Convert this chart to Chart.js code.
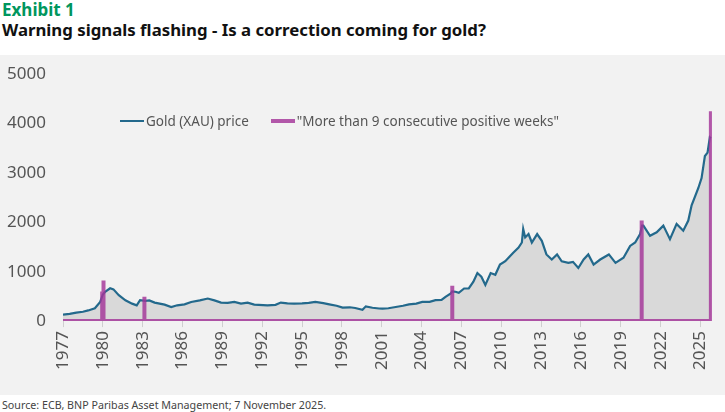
<!DOCTYPE html>
<html>
<head>
<meta charset="utf-8">
<script src="https://cdn.jsdelivr.net/npm/chart.js@4.4.1/dist/chart.umd.min.js"></script>
<style>
  html, body { margin: 0; padding: 0; background: #fff; }
  body { width: 725px; height: 412px; position: relative; overflow: hidden; font-family: "Noto Sans", sans-serif; }
  #exhibit { position: absolute; left: 2px; top: -2px; font: bold 17px "Noto Sans", sans-serif; color: #00965e; }
  #title { position: absolute; left: 2px; top: 18px; font: bold 16.8px "Noto Sans", sans-serif; color: #111; }
  #panel { position: absolute; left: 0; top: 55px; width: 725px; height: 340px; background: #f2f2f2; }
  #legend { position: absolute; left: 120px; top: 57px; font-size: 13.5px; color: #555; display: flex; align-items: center; }
  #legend .item { display: flex; align-items: center; margin-right: 22px; }
  #legend .swatch { display: inline-block; width: 24px; margin-right: 2px; }
  #source { position: absolute; left: 2px; top: 398px; font-size: 10.7px; color: #444; }
</style>
</head>
<body>
<div id="exhibit">Exhibit 1</div>
<div id="title">Warning signals flashing - Is a correction coming for gold?</div>
<div id="panel">
  <canvas id="gold-chart" width="725" height="340"></canvas>
  <div id="legend"></div>
</div>
<div id="source">Source: ECB, BNP Paribas Asset Management; 7 November 2025.</div>

<script>
// Gold price (decimal year, USD/oz)
const goldYears = [
  1977.0, 1977.5, 1978.0, 1978.5, 1978.9, 1979.4, 1979.8, 1980.0, 1980.17, 1980.55,
  1980.8, 1981.2, 1981.7, 1982.2, 1982.55, 1982.8, 1983.2, 1983.5, 1983.9, 1984.65,
  1985.15, 1985.6, 1986.15, 1986.65, 1987.3, 1987.9, 1988.4, 1988.9, 1989.4, 1989.9,
  1990.4, 1990.9, 1991.4, 1992.4, 1993.0, 1993.4, 1993.9, 1994.4, 1995.0, 1995.5,
  1996.0, 1996.6, 1997.05, 1997.6, 1998.05, 1998.6, 1999.0, 1999.55, 1999.8, 2000.3,
  2000.8, 2001.05, 2001.5, 2002.05, 2002.6, 2003.05, 2003.6, 2004.05, 2004.6, 2005.05,
  2005.5, 2005.8, 2006.2, 2006.3, 2006.55, 2006.8, 2007.2, 2007.55, 2007.9, 2008.2,
  2008.5, 2008.8, 2009.2, 2009.55, 2009.9, 2010.3, 2010.65, 2010.9, 2011.3, 2011.55,
  2011.65, 2011.8, 2012.05, 2012.3, 2012.7, 2013.05, 2013.4, 2013.8, 2014.2, 2014.55,
  2015.05, 2015.4, 2015.8, 2016.2, 2016.55, 2016.95, 2017.45, 2018.1, 2018.6, 2019.2,
  2019.7, 2020.08, 2020.45, 2020.6, 2020.7, 2021.2, 2021.7, 2022.2, 2022.7, 2023.2,
  2023.7, 2024.08, 2024.33, 2024.83, 2025.08, 2025.33, 2025.53, 2025.7, 2025.78
];
const goldPrices = [
  130, 145, 170, 190, 216, 260, 388, 540, 594, 664,
  643, 526, 422, 354, 320, 423, 408, 420, 375, 333,
  285, 320, 340, 388, 420, 457, 420, 375, 370, 388,
  354, 375, 333, 320, 330, 375, 360, 354, 360, 370,
  388, 365, 340, 310, 272, 280, 265, 231, 299, 270,
  255, 251, 260, 285, 310, 340, 355, 388, 390, 423,
  430, 491, 560, 600, 594, 573, 660, 664, 800, 973,
  900, 732, 973, 938, 1144, 1212, 1315, 1385, 1488, 1592,
  1866, 1695, 1763, 1592, 1763, 1625, 1350, 1247, 1350, 1212,
  1179, 1200, 1076, 1247, 1350, 1144, 1247, 1350, 1179, 1282,
  1522, 1592, 1763, 1934, 1934, 1728, 1798, 1934, 1660, 1969,
  1831, 2037, 2346, 2691, 2897, 3344, 3412, 3722, 3700
];

// "More than 9 consecutive positive weeks" signals
const signalDates = [1979.95, 1980.05, 1983.13, 2006.31, 2020.57, 2025.78];
const signalHeights = [600, 820, 491, 718, 2037, 4250];

const xStart = 1977;
const xEnd = 2025.86;
const yearTicks = [1977, 1980, 1983, 1986, 1989, 1992, 1995, 1998, 2001, 2004, 2007, 2010, 2013, 2016, 2019, 2022, 2025];
const valueTicks = [0, 1000, 2000, 3000, 4000, 5000];

const goldColor = '#23698c';
const signalColor = 'rgba(163, 52, 153, 0.82)';

// Build point lists
const goldPoints = goldYears.map((x, i) => ({ x: x, y: goldPrices[i] }));

const signalPoints = [{ x: xStart, y: 0 }];
signalDates.forEach((d, i) => {
    signalPoints.push({ x: d, y: 0 }, { x: d, y: signalHeights[i] }, { x: d, y: 0 });
});
signalPoints.push({ x: xEnd, y: 0 });

const datasets = [
    {
        label: 'Gold (XAU) price',
        data: goldPoints,
        borderColor: goldColor,
        backgroundColor: '#d9d9d9',
        borderWidth: 2.2,
        pointRadius: 0,
        fill: 'origin',
        tension: 0,
        order: 2,
        legendWidth: 2
    },
    {
        label: '"More than 9 consecutive positive weeks"',
        data: signalPoints,
        borderColor: signalColor,
        borderWidth: 4,
        borderJoinStyle: 'bevel',
        borderCapStyle: 'butt',
        pointRadius: 0,
        fill: false,
        tension: 0,
        order: 1,
        legendWidth: 4
    }
];

const tickFont = { family: '"Noto Sans", sans-serif', size: 17 };

const chart = new Chart(document.getElementById('gold-chart').getContext('2d'), {
    type: 'line',
    data: { datasets: datasets },
    options: {
        responsive: false,
        animation: false,
        events: [],
        layout: { padding: { left: 0, right: 5, top: 12.5, bottom: 21 } },
        scales: {
            x: {
                type: 'linear',
                min: xStart,
                max: xEnd,
                afterBuildTicks: scale => {
                    scale.ticks = yearTicks.map(v => ({ value: v }));
                },
                ticks: {
                    font: tickFont,
                    color: '#555',
                    minRotation: 90,
                    maxRotation: 90,
                    autoSkip: false,
                    padding: 4,
                    callback: value => String(value)
                },
                grid: { drawOnChartArea: false, drawTicks: true, tickLength: 6, color: '#cfcfcf' },
                border: { display: false }
            },
            y: {
                min: 0,
                max: 5000,
                afterBuildTicks: scale => {
                    scale.ticks = valueTicks.map(v => ({ value: v }));
                },
                afterFit: scale => {
                    scale.width = 63;
                },
                ticks: {
                    font: tickFont,
                    color: '#555',
                    padding: 9,
                    callback: value => String(value)
                },
                grid: { display: false },
                border: { display: false }
            }
        },
        plugins: {
            legend: { display: false },
            tooltip: { enabled: false }
        }
    }
});

// HTML legend built from the datasets
const legendEl = document.getElementById('legend');
datasets.forEach(ds => {
    const item = document.createElement('span');
    item.className = 'item';
    const sw = document.createElement('span');
    sw.className = 'swatch';
    sw.style.height = ds.legendWidth + 'px';
    sw.style.background = ds.borderColor;
    item.appendChild(sw);
    item.appendChild(document.createTextNode(ds.label));
    legendEl.appendChild(item);
});
</script>
</body>
</html>
